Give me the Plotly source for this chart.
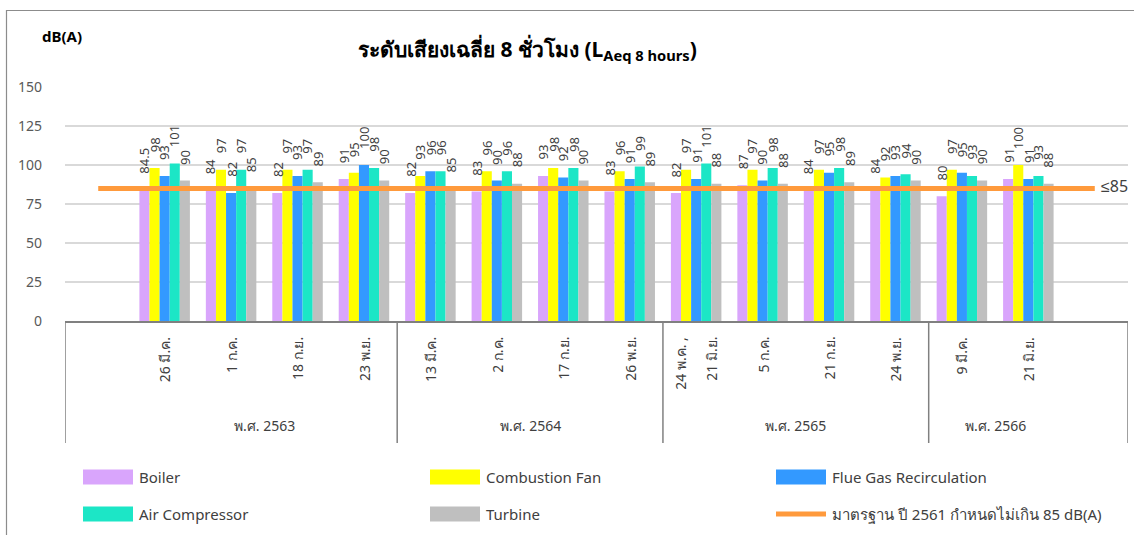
import plotly.graph_objects as go

# ---- data ----
dates = ["26 มี.ค.", "1 ก.ค.", "18 ก.ย.", "23 พ.ย.",
         "13 มี.ค.", "2 ก.ค.", "17 ก.ย.", "26 พ.ย.",
         "24 พ.ค. ,<br>21 มิ.ย.", "5 ก.ค.", "21 ก.ย.", "24 พ.ย.",
         "9 มี.ค.", "21 มิ.ย."]
years = ["พ.ศ. 2563", "พ.ศ. 2564", "พ.ศ. 2565", "พ.ศ. 2566"]
year_sizes = [4, 4, 4, 2]

boiler = [84.5, 84, 82, 91, 82, 83, 93, 83, 82, 87, 84, 84, 80, 91]
combustion_fan = [98, 97, 97, 95, 93, 96, 98, 96, 97, 97, 97, 92, 97, 100]
flue_gas = [93, 82, 93, 100, 96, 90, 92, 91, 91, 90, 95, 93, 95, 91]
air_compressor = [101, 97, 97, 98, 96, 96, 98, 99, 101, 98, 98, 94, 93, 93]
turbine = [90, 85, 89, 90, 85, 88, 90, 89, 88, 88, 89, 90, 90, 88]

standard_value = 85
series_names = ["Boiler", "Combustion Fan", "Flue Gas Recirculation",
                "Air Compressor", "Turbine"]
standard_name = "มาตรฐาน ปี 2561 กำหนดไม่เกิน 85 dB(A)"
y_ticks = [0, 25, 50, 75, 100, 125, 150]

# ---- styling ----
colors = ["#D9A5FC", "#FFFF00", "#3399FF", "#1CE6C6", "#BFBFBF"]
line_color = "#FF9A3C"
text_color = "#404040"
font_family = "Noto Sans, Tahoma, sans-serif"
BARGAP = 0.24

W, H = 1134, 535
ML, MR, MT, MB = 65, 6, 87, 214
PW, PH = W - ML - MR, H - MT - MB


def px_x(x):
    return (x - ML) / PW


def px_y(y):
    return (H - MB - y) / PH


# Category slots: one empty slot before the data and one after it
n = len(dates)
xs = list(range(1, n + 1))
slots = list(range(0, n + 2))
series = [boiler, combustion_fan, flue_gas, air_compressor, turbine]

fig = go.Figure()
for name, vals, col in zip(series_names, series, colors):
    fig.add_trace(go.Bar(
        x=xs, y=vals, name=name, marker=dict(color=col, line=dict(width=0)),
        showlegend=False,
    ))

fig.add_trace(go.Scatter(
    x=slots, y=[standard_value] * len(slots), mode="lines",
    line=dict(color=line_color, width=5), name=standard_name,
    showlegend=False,
))

annotations = []
shapes = []

# Value labels, rotated, above each bar (drawn over every bar)
bar_w = (1 - BARGAP) / len(series)
for k, vals in enumerate(series):
    off = (k - (len(series) - 1) / 2) * bar_w
    for x, v in zip(xs, vals):
        annotations.append(dict(
            x=x + off, xref="x", y=v, yref="y", text=f"{v:g}",
            textangle=-90, showarrow=False, xanchor="center",
            yanchor="bottom", yshift=14,
            font=dict(size=13, color=text_color, family=font_family),
        ))

# Limit label at the end of the standard line
annotations.append(dict(
    x=slots[-1], xref="x", y=standard_value, yref="y",
    text=f"≤{standard_value}", showarrow=False, xanchor="left",
    yanchor="middle", xshift=4, yshift=2,
    font=dict(size=16, color=text_color, family=font_family),
))

# Date labels, rotated, under the axis
for x, label in zip(xs, dates):
    parts = label.split("<br>")
    offsets = [0.0] if len(parts) == 1 else [-0.24, 0.22]
    for off, part in zip(offsets, parts):
        annotations.append(dict(
            x=x + off, xref="x", y=px_y(335), yref="paper",
            text=part, textangle=-90, showarrow=False,
            xanchor="center", yanchor="top",
            font=dict(size=14, color=text_color, family=font_family),
        ))

# Year group labels and separators
start = 1
bounds = [-0.5]
for yr, size in zip(years, year_sizes):
    end = start + size - 1
    annotations.append(dict(
        x=(start + end) / 2, xref="x", y=px_y(425), yref="paper",
        text=yr, showarrow=False, xanchor="center", yanchor="middle",
        font=dict(size=14, color=text_color, family=font_family),
    ))
    bounds.append(end + 0.5)
    start = end + 1
bounds[-1] = n + 1.5
for b in bounds:
    shapes.append(dict(type="line", xref="x", yref="paper",
                       x0=b, x1=b, y0=0, y1=px_y(443),
                       line=dict(color="#808080", width=1.5)))

# Title and unit
annotations.append(dict(
    x=px_x(527), xref="paper", y=px_y(50), yref="paper",
    text="<b>ระดับเสียงเฉลี่ย 8 ชั่วโมง (L<sub>Aeq 8 hours</sub>)</b>",
    showarrow=False, xanchor="center", yanchor="middle",
    font=dict(size=21, color="#000000", family=font_family),
))
annotations.append(dict(
    x=px_x(40), xref="paper", y=px_y(36), yref="paper",
    text="<b>dB(A)</b>", showarrow=False, xanchor="left", yanchor="middle",
    font=dict(size=15, color="#000000", family=font_family),
))

# Legend drawn as swatches and labels, two rows of three
legend_cols = [83, 430, 776]
legend_rows = [477, 514]
entries = list(zip(series_names, colors)) + [(standard_name, None)]
for i, (name, col) in enumerate(entries):
    lx = legend_cols[i % 3]
    ly = legend_rows[i // 3]
    if col is None:
        shapes.append(dict(type="line", xref="paper", yref="paper",
                           x0=px_x(lx), x1=px_x(lx + 50),
                           y0=px_y(ly), y1=px_y(ly),
                           line=dict(color=line_color, width=5)))
    else:
        shapes.append(dict(type="rect", xref="paper", yref="paper",
                           x0=px_x(lx), x1=px_x(lx + 50),
                           y0=px_y(ly - 7.5), y1=px_y(ly + 7.5),
                           fillcolor=col, line=dict(width=0)))
    annotations.append(dict(
        x=px_x(lx + 54), xref="paper", y=px_y(ly), yref="paper",
        text=name, showarrow=False, xanchor="left", yanchor="middle",
        font=dict(size=15, color=text_color, family=font_family),
    ))

# Outer chart frame
shapes.append(dict(type="rect", xref="paper", yref="paper",
                   x0=px_x(6.5), x1=px_x(1145), y0=px_y(545), y1=px_y(10.5),
                   line=dict(color="#8C8C8C", width=1.2), fillcolor="rgba(0,0,0,0)",
                   layer="below"))

fig.update_layout(
    width=W, height=H,
    margin=dict(l=ML, r=MR, t=MT, b=MB, pad=0),
    paper_bgcolor="white", plot_bgcolor="white",
    barmode="group", bargap=BARGAP, bargroupgap=0,
    showlegend=False,
    font=dict(family=font_family, color=text_color),
    annotations=annotations, shapes=shapes,
    xaxis=dict(range=[-0.5, n + 1.5], showticklabels=False, showgrid=False,
               zeroline=False, showline=True, linecolor="#808080",
               linewidth=1.5, ticks="", fixedrange=True),
    yaxis=dict(range=[0, 150], tickvals=y_ticks, showgrid=True,
               gridcolor="#D9D9D9", gridwidth=1.5, zeroline=False,
               showline=False, ticks="", ticklabelstandoff=22,
               tickfont=dict(size=14, color="#595959", family=font_family),
               fixedrange=True),
)

fig.write_html("out.html")
